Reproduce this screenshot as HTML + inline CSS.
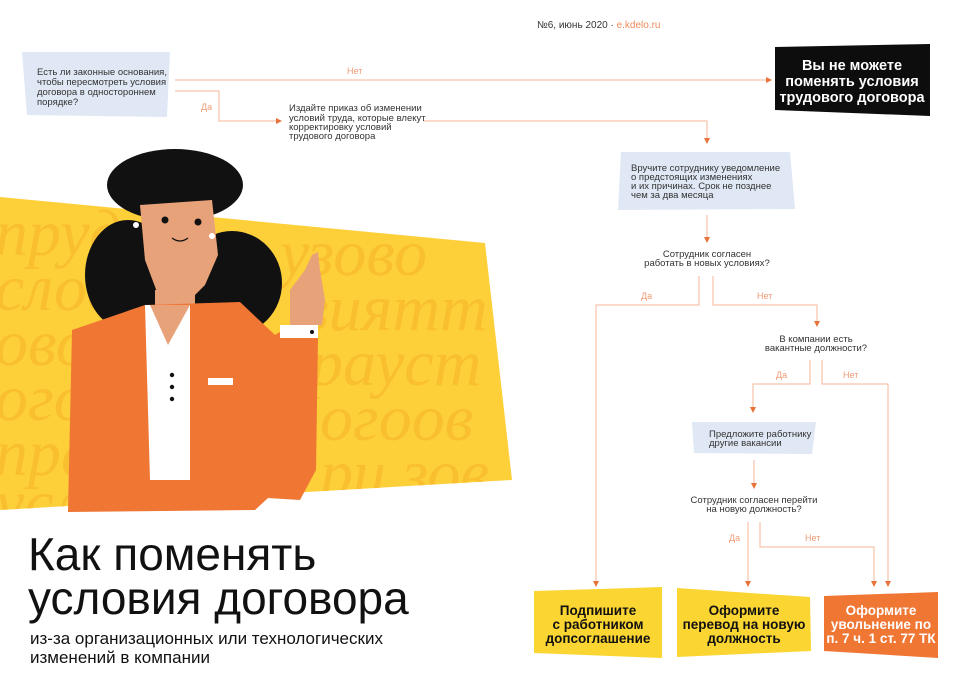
<!DOCTYPE html>
<html><head><meta charset="utf-8"><style>
html,body{margin:0;padding:0;background:#fff}
body{width:960px;height:696px;overflow:hidden;position:relative;font-family:"Liberation Sans",sans-serif}
svg{position:absolute;left:0;top:0}
</style></head><body>
<svg width="960" height="696" viewBox="0 0 960 696" xmlns="http://www.w3.org/2000/svg" font-family="Liberation Sans, sans-serif">
<defs>
<clipPath id="yc"><polygon points="0,197 485,243 512,480 0,510"/></clipPath>
</defs>
<polygon points="0,197 485,243 512,480 0,510" fill="#fdd03a"/>
<g clip-path="url(#yc)" fill="#f9bf2e" font-size="66" font-style="italic" font-family="Liberation Serif, serif">
<text x="-5" y="255">прудо</text>
<text x="-5" y="310">словот</text>
<text x="-5" y="365">овори</text>
<text x="-5" y="420">огоп</text>
<text x="-5" y="475">прав</text>
<text x="-5" y="525">усло</text>
<text x="280" y="275">узово</text>
<text x="300" y="330">виятт</text>
<text x="310" y="385">рауст</text>
<text x="320" y="440">огоов</text>
<text x="320" y="495">ри зов</text>
</g>
<ellipse cx="175" cy="185" rx="68" ry="36" fill="#111"/>
<ellipse cx="128" cy="275" rx="43" ry="55" fill="#111"/>
<ellipse cx="232" cy="283" rx="50" ry="52" fill="#111"/>
<polygon points="140,205 212,200 218,255 205,285 190,300 160,300 145,260" fill="#e8a27a"/>
<polygon points="155,290 195,290 195,310 155,310" fill="#e8a27a"/>
<polygon points="72,330 145,305 240,302 275,335 283,330 318,336 316,470 300,500 268,498 255,510 68,512" fill="#f07634"/>
<polygon points="145,305 190,305 190,480 150,480" fill="#fff"/>
<polygon points="150,305 168,345 190,305" fill="#e8a27a"/>
<rect x="208" y="378" width="25" height="7" fill="#fff"/>
<circle cx="172" cy="375" r="2.2" fill="#111"/><circle cx="172" cy="387" r="2.2" fill="#111"/><circle cx="172" cy="399" r="2.2" fill="#111"/>
<polygon points="290,290 305,270 312,255 318,252 320,270 325,300 322,325 290,325" fill="#e8a27a"/>
<rect x="280" y="325" width="38" height="13" fill="#fff"/>
<circle cx="312" cy="332" r="2" fill="#111"/>
<circle cx="165" cy="220" r="3.5" fill="#111"/><circle cx="198" cy="222" r="3.5" fill="#111"/>
<circle cx="136" cy="225" r="3" fill="#fff"/><circle cx="212" cy="236" r="3" fill="#fff"/>
<path d="M172,238 Q180,244 188,238" stroke="#111" fill="none" stroke-width="1.3"/>
<text x="28" y="570" font-size="46" fill="#111">Как поменять</text>
<text x="28" y="614" font-size="46" fill="#111">условия договора</text>
<text x="30" y="644" font-size="17" fill="#111">из-за организационных или технологических</text>
<text x="30" y="663" font-size="17" fill="#111">изменений в компании</text>
<text x="537" y="28" font-size="10" fill="#333">№6, июнь 2020 · <tspan fill="#ef8a5a">e.kdelo.ru</tspan></text>
<g stroke="#f3b597" stroke-width="1" fill="none">
<path d="M175,80 H766"/>
<path d="M175,91 H219 V121 H278"/>
<path d="M423,121 H707 V141"/>
<path d="M707,215 V240"/>
<path d="M699,276 V305 H596 V584"/>
<path d="M713,276 V305 H817 V324"/>
<path d="M810,360 V384 H753 V410"/>
<path d="M822,360 V384 H888 V584"/>
<path d="M754,460 V486"/>
<path d="M748,522 V584"/>
<path d="M760,522 V547 H874 V584"/>
</g>
<g fill="#e8733a">
<polygon points="766,77 772,80 766,83"/>
<polygon points="276,118 282,121 276,124"/>
<polygon points="704,138 710,138 707,144"/>
<polygon points="704,237 710,237 707,243"/>
<polygon points="593,581 599,581 596,587"/>
<polygon points="814,321 820,321 817,327"/>
<polygon points="750,407 756,407 753,413"/>
<polygon points="885,581 891,581 888,587"/>
<polygon points="751,483 757,483 754,489"/>
<polygon points="745,581 751,581 748,587"/>
<polygon points="871,581 877,581 874,587"/>
</g>
<g font-size="9" fill="#ef9a73">
<text x="347" y="74">Нет</text>
<text x="201" y="110">Да</text>
<text x="641" y="299">Да</text>
<text x="757" y="299">Нет</text>
<text x="776" y="378">Да</text>
<text x="843" y="378">Нет</text>
<text x="729" y="541">Да</text>
<text x="805" y="541">Нет</text>
</g>
<polygon points="22,52 170,52 167,117 27,115" fill="#dfe8f4"/>
<g font-size="9.5" fill="#333">
<text x="37" y="75">Есть ли законные основания,</text>
<text x="37" y="85">чтобы пересмотреть условия</text>
<text x="37" y="95">договора в одностороннем</text>
<text x="37" y="105">порядке?</text>
<text x="289" y="111">Издайте приказ об изменении</text>
<text x="289" y="121">условий труда, которые влекут</text>
<text x="289" y="130">корректировку условий</text>
<text x="289" y="139">трудового договора</text>
</g>
<polygon points="775,47 930,44 930,116 775,110" fill="#0d0d0d"/>
<g font-size="14.5" font-weight="bold" fill="#fff" text-anchor="middle">
<text x="852" y="70">Вы не можете</text>
<text x="852" y="86">поменять условия</text>
<text x="852" y="102">трудового договора</text>
</g>
<polygon points="621,152 790,152 795,209 618,210" fill="#dfe8f4"/>
<g font-size="9.5" fill="#333">
<text x="631" y="171">Вручите сотруднику уведомление</text>
<text x="631" y="180">о предстоящих изменениях</text>
<text x="631" y="189">и их причинах. Срок не позднее</text>
<text x="631" y="198">чем за два месяца</text>
</g>
<g font-size="9.5" fill="#333" text-anchor="middle">
<text x="707" y="257">Сотрудник согласен</text>
<text x="707" y="266">работать в новых условиях?</text>
<text x="816" y="342">В компании есть</text>
<text x="816" y="351">вакантные должности?</text>
<text x="754" y="503">Сотрудник согласен перейти</text>
<text x="754" y="512">на новую должность?</text>
</g>
<polygon points="692,422 816,422 812,454 694,453" fill="#dfe8f4"/>
<g font-size="9.5" fill="#333">
<text x="709" y="437">Предложите работнику</text>
<text x="709" y="446">другие вакансии</text>
</g>
<polygon points="534,591 662,587 662,658 534,653" fill="#fbd531"/>
<polygon points="677,588 810,597 811,651 677,657" fill="#fbd531"/>
<polygon points="824,596 938,592 938,658 824,651" fill="#f07634"/>
<g font-size="13.5" font-weight="bold" text-anchor="middle" fill="#111">
<text x="598" y="615">Подпишите</text>
<text x="598" y="629">с работником</text>
<text x="598" y="643">допсоглашение</text>
<text x="744" y="615">Оформите</text>
<text x="744" y="629">перевод на новую</text>
<text x="744" y="643">должность</text>
</g>
<g font-size="13.5" font-weight="bold" text-anchor="middle" fill="#fff">
<text x="881" y="615">Оформите</text>
<text x="881" y="629">увольнение по</text>
<text x="881" y="643">п. 7 ч. 1 ст. 77 ТК</text>
</g>
</svg>
</body></html>
